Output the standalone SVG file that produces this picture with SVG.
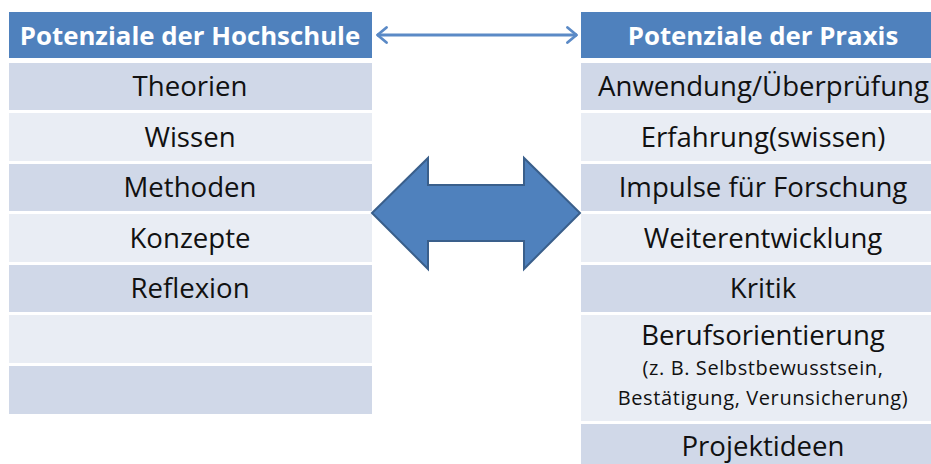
<svg xmlns="http://www.w3.org/2000/svg" width="931" height="464" viewBox="0 0 931 464">
<style>
.hdr{fill:#4F81BD}
.dk{fill:#D0D8E8}
.lt{fill:#E9EDF4}
.ht{font-family:"Open Sans","Noto Sans",sans-serif;font-weight:bold;font-size:25.8px;fill:#FFFFFF;text-anchor:middle}
.bt{font-family:"Open Sans","Noto Sans",sans-serif;font-size:27.6px;fill:#111111;text-anchor:middle}
.st{font-family:"Open Sans","Noto Sans",sans-serif;font-size:20px;letter-spacing:0.6px;fill:#111111;text-anchor:middle}
.link{fill:none;stroke:#5B8AC6;stroke-width:2.8}
.big{fill:#4F81BD;stroke:#3A5F8B;stroke-width:2;stroke-linejoin:miter}
</style>
<defs>
<marker id="chev" viewBox="0 0 12 18" refX="11" refY="9" markerWidth="12" markerHeight="18" markerUnits="userSpaceOnUse" orient="auto-start-reverse">
<path d="M1.5,1.5 L10.5,9 L1.5,16.5" fill="none" stroke="#5B8AC6" stroke-width="2.8" stroke-linecap="round" stroke-linejoin="round"/>
</marker>
</defs>
<rect width="931" height="464" fill="#FFFFFF"/>
<g id="hochschule">
<g id="h-header"><rect class="hdr" x="9" y="12" width="363" height="46"/><text class="ht" x="190" y="44.5">Potenziale der Hochschule</text></g>
<g id="h-theorien"><rect class="dk" x="9" y="63" width="363" height="47"/><text class="bt" x="190" y="96">Theorien</text></g>
<g id="h-wissen"><rect class="lt" x="9" y="113" width="363" height="48"/><text class="bt" x="190" y="146.5">Wissen</text></g>
<g id="h-methoden"><rect class="dk" x="9" y="164" width="363" height="47"/><text class="bt" x="190" y="197">Methoden</text></g>
<g id="h-konzepte"><rect class="lt" x="9" y="214" width="363" height="48"/><text class="bt" x="190" y="248">Konzepte</text></g>
<g id="h-reflexion"><rect class="dk" x="9" y="265" width="363" height="47"/><text class="bt" x="190" y="298">Reflexion</text></g>
<g id="h-empty1"><rect class="lt" x="9" y="315" width="363" height="48"/></g>
<g id="h-empty2"><rect class="dk" x="9" y="366" width="363" height="48"/></g>
</g>
<g id="praxis">
<g id="p-header"><rect class="hdr" x="581" y="12" width="363" height="46"/><text class="ht" x="763" y="44.5">Potenziale der Praxis</text></g>
<g id="p-anwendung"><rect class="dk" x="581" y="63" width="363" height="47"/><text class="bt" x="763.5" y="96">Anwendung/Überprüfung</text></g>
<g id="p-erfahrung"><rect class="lt" x="581" y="113" width="363" height="48"/><text class="bt" x="763" y="146.5">Erfahrung(swissen)</text></g>
<g id="p-impulse"><rect class="dk" x="581" y="164" width="363" height="47"/><text class="bt" x="763" y="197">Impulse für Forschung</text></g>
<g id="p-weiter"><rect class="lt" x="581" y="214" width="363" height="48"/><text class="bt" x="763" y="248">Weiterentwicklung</text></g>
<g id="p-kritik"><rect class="dk" x="581" y="265" width="363" height="47"/><text class="bt" x="763" y="298">Kritik</text></g>
<g id="p-beruf"><rect class="lt" x="581" y="315" width="363" height="106"/><text class="bt" x="763" y="344.5">Berufsorientierung</text><text class="st" x="763" y="374.5">(z. B. Selbstbewusstsein,</text><text class="st" x="763" y="404.5">Bestätigung, Verunsicherung)</text></g>
<g id="p-projekt"><rect class="dk" x="581" y="424" width="363" height="48"/><text class="bt" x="763" y="456">Projektideen</text></g>
</g>
<g id="connectors">
<line class="link" x1="377" y1="35" x2="577" y2="35" marker-start="url(#chev)" marker-end="url(#chev)"/>
<polygon class="big" points="372,213 428,158 428,185 524,185 524,158 580,213 524,269 524,241 428,241 428,269"/>
</g>
</svg>
